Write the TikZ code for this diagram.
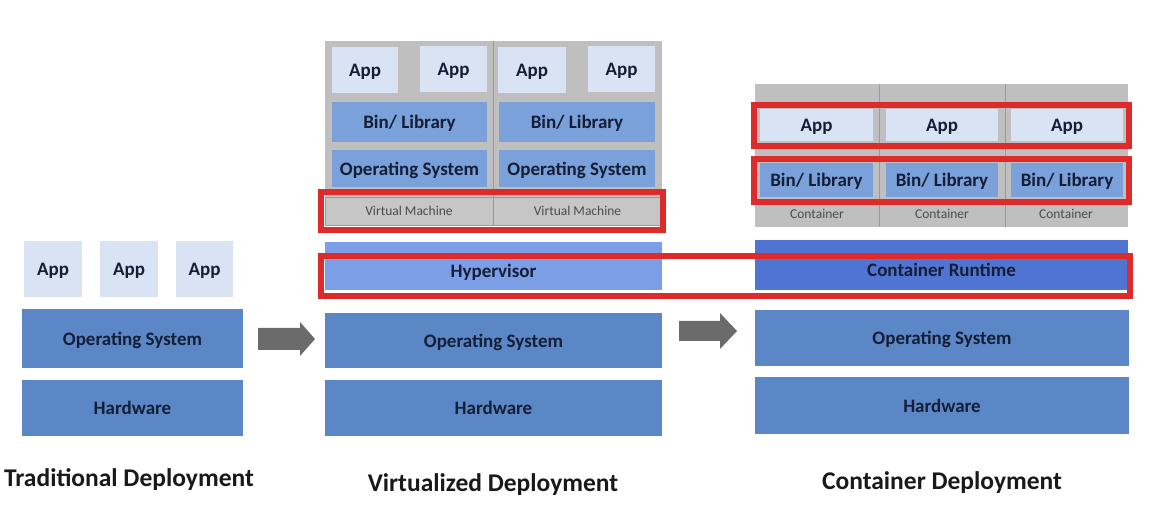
\documentclass[tikz,border=0pt]{standalone}
\usepackage{fontspec}
\setmainfont{Carlito}
\usepackage{xcolor}
\usepackage{tikz}

\definecolor{osblue}{HTML}{5B87C6}
\definecolor{appblue}{HTML}{DAE3F3}
\definecolor{libblue}{HTML}{7AA1DA}
\definecolor{backgray}{HTML}{BFBFBF}
\definecolor{vmgray}{HTML}{C6C6C6}
\definecolor{linegray}{HTML}{9A9A9A}
\definecolor{hyperblue}{HTML}{7C9EE6}
\definecolor{runtimeblue}{HTML}{5074D1}
\definecolor{frame}{HTML}{DD2A2A}
\definecolor{arrowgray}{HTML}{6B6B6B}
\definecolor{navy}{HTML}{141E36}

\tikzset{
    layer/.style={fill=osblue, text=navy, inner sep=0pt, text depth=0pt, font=\bfseries\fontsize{19}{21}\selectfont},
    app/.style={layer, fill=appblue},
    lib/.style={layer, fill=libblue},
    vm/.style={fill=vmgray, draw=linegray, line width=0.8pt, text=black!70, inner sep=0pt, text depth=0pt, font=\fontsize{13.5}{15}\selectfont},
    tag/.style={text=black!70, inner sep=0pt, font=\fontsize{13.5}{15}\selectfont},
    redbox/.style={draw=frame, line width=6pt},
    title/.style={text=black!90, font=\bfseries\fontsize{25.5}{30}\selectfont}
}

\begin{document}
\begin{tikzpicture}[x=1pt, y=-1pt]
        \fill[white] (0, 0) rectangle (1159, 526);
        % traditional
        \node[app, minimum width=58, minimum height=56] (tapp1) at (53, 269) {App};
        \node[app, minimum width=58, minimum height=56] (tapp2) at (129, 269) {App};
        \node[app, minimum width=57, minimum height=56] (tapp3) at (204.5, 269) {App};
        \node[layer, minimum width=221, minimum height=59] (tos) at (132.5, 338.5) {Operating System};
        \node[layer, minimum width=221, minimum height=56] (thw) at (132.5, 408) {Hardware};
        \node[title] (ttitle) at (129, 480) {Traditional Deployment};
        \fill[arrowgray] (258, 328) -- (300, 328) -- (300, 322) -- (315, 339) -- (300, 356) -- (300, 350) -- (258, 350) -- cycle;
        % virtualized
        \fill[backgray] (325, 41) rectangle (662, 225);
        \draw[linegray, line width=0.8pt] (493, 41) -- (493, 197);
        \node[app, minimum width=66, minimum height=46] (vapp1) at (365, 70) {App};
        \node[app, minimum width=67, minimum height=46] (vapp2) at (453.5, 69) {App};
        \node[app, minimum width=68, minimum height=46] (vapp3) at (532, 70) {App};
        \node[app, minimum width=67, minimum height=46] (vapp4) at (621.5, 69) {App};
        \node[lib, minimum width=155, minimum height=40] (vlib1) at (409.5, 122) {Bin/ Library};
        \node[lib, minimum width=156, minimum height=40] (vlib2) at (577, 122) {Bin/ Library};
        \node[lib, minimum width=155, minimum height=37] (vos1) at (409.5, 168.5) {Operating System};
        \node[lib, minimum width=156, minimum height=37] (vos2) at (577, 168.5) {Operating System};
        \node[vm, minimum width=168, minimum height=28] (vm1) at (409, 211) {Virtual Machine};
        \node[vm, minimum width=169, minimum height=28] (vm2) at (577.5, 211) {Virtual Machine};
        \node[layer, fill=hyperblue, minimum width=337, minimum height=48, text height=23pt] (hyper) at (493.5, 266) {Hypervisor};
        \node[layer, minimum width=337, minimum height=55] (vos) at (493.5, 340.5) {Operating System};
        \node[layer, minimum width=337, minimum height=56] (vhw) at (493.5, 408) {Hardware};
        \node[title] (vtitle) at (493, 485) {Virtualized Deployment};
        \fill[arrowgray] (679, 321) -- (720, 321) -- (720, 313) -- (737, 331) -- (720, 349) -- (720, 341) -- (679, 341) -- cycle;
        % container
        \fill[backgray] (755, 84) rectangle (1128, 227);
        \draw[linegray, line width=0.8pt] (879, 84) -- (879, 227);
        \draw[linegray, line width=0.8pt] (1005, 84) -- (1005, 227);
        \node[app, minimum width=113, minimum height=32] (capp1) at (816.5, 125) {App};
        \node[app, minimum width=112, minimum height=32] (capp2) at (942, 125) {App};
        \node[app, minimum width=112, minimum height=32] (capp3) at (1067, 125) {App};
        \node[lib, minimum width=113, minimum height=34] (clib1) at (816.5, 180) {Bin/ Library};
        \node[lib, minimum width=112, minimum height=34] (clib2) at (942, 180) {Bin/ Library};
        \node[lib, minimum width=112, minimum height=34] (clib3) at (1067, 180) {Bin/ Library};
        \node[tag] (ctag1) at (817, 214) {Container};
        \node[tag] (ctag2) at (942, 214) {Container};
        \node[tag] (ctag3) at (1066, 214) {Container};
        \node[layer, fill=runtimeblue, minimum width=373, minimum height=50, text height=23pt] (runtime) at (941.5, 265) {Container Runtime};
        \node[layer, minimum width=374, minimum height=56] (cos) at (942, 338) {Operating System};
        \node[layer, minimum width=374, minimum height=57] (chw) at (942, 405.5) {Hardware};
        \node[title] (ctitle) at (942, 483) {Container Deployment};
        % red frames
        \draw[redbox] (321, 192) rectangle (663, 230);
        \draw[redbox] (321, 256) rectangle (1130, 296);
        \draw[redbox] (754, 105) rectangle (1129, 146);
        \draw[redbox] (754, 159) rectangle (1129, 202);
    \end{tikzpicture}
\end{document}
